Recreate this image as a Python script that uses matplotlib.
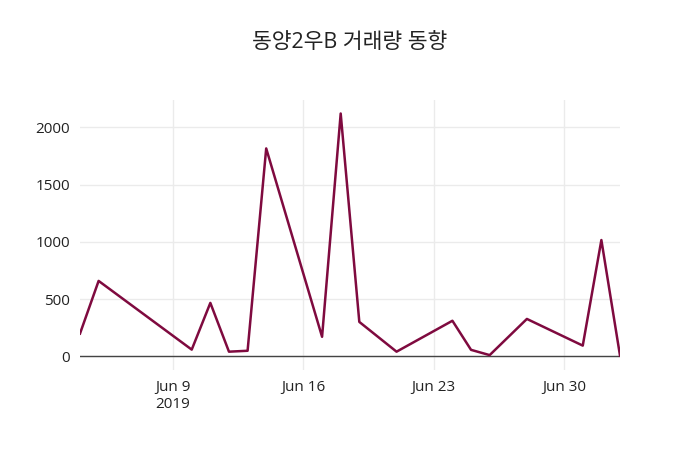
import numpy as np
import pandas as pd
import matplotlib
matplotlib.use("Agg")
import matplotlib.pyplot as plt
import matplotlib.dates as mdates

plt.rcParams['font.family'] = ['Open Sans', 'Noto Sans CJK KR', 'DejaVu Sans']

# trading days and volume
dates = ["2019-06-04", "2019-06-05", "2019-06-10", "2019-06-11", "2019-06-12",
         "2019-06-13", "2019-06-14", "2019-06-17", "2019-06-18", "2019-06-19",
         "2019-06-21", "2019-06-24", "2019-06-25", "2019-06-26", "2019-06-28",
         "2019-07-01", "2019-07-02", "2019-07-03"]
volume = [200, 660, 60, 468, 42, 50, 1817, 172, 2122, 302,
          42, 312, 58, 12, 328, 95, 1017, 8]
tick_dates = ["2019-06-09", "2019-06-16", "2019-06-23", "2019-06-30"]
tick_labels = ["Jun 9\n2019", "Jun 16", "Jun 23", "Jun 30"]

x = pd.to_datetime(dates)

fig = plt.figure(figsize=(7, 4.5), dpi=100)
ax = fig.add_axes([80 / 700, 80 / 450, 540 / 700, 270 / 450])

ax.plot(x, volume, color="#7f0a3f", linewidth=1.8, zorder=3)

ax.set_xlim(x[0], x[-1])
ax.set_ylim(-118, 2240)
ax.set_yticks([0, 500, 1000, 1500, 2000])
ax.set_xticks(pd.to_datetime(tick_dates))
ax.set_xticklabels(tick_labels)

ax.grid(True, color="#ebebeb", linewidth=1, zorder=0)
ax.axhline(0, color="#444444", linewidth=1, zorder=2)
for s in ax.spines.values():
    s.set_visible(False)
ax.tick_params(length=0, labelsize=11, colors="#222222", pad=7)
for lab in ax.get_xticklabels():
    lab.set_linespacing(1.2)

fig.text(0.5, 1 - 42 / 450, "동양2우B 거래량 동향", ha="center", va="center",
         fontsize=15.5, color="#222222")

fig.savefig("out.png", dpi=100)
